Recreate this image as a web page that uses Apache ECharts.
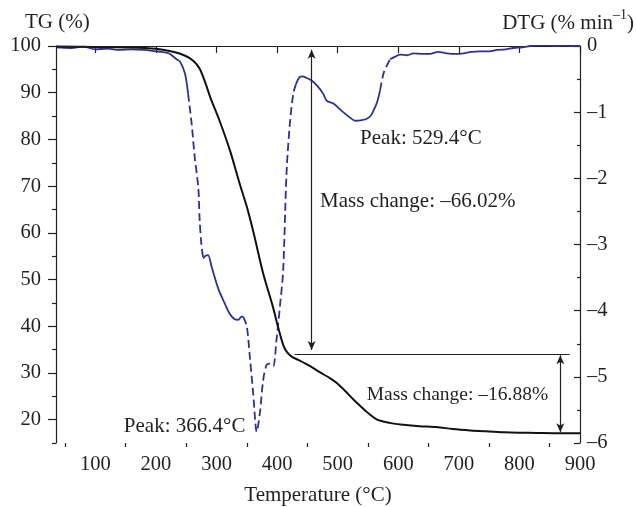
<!DOCTYPE html>
<html>
<head>
<meta charset="utf-8">
<script src="https://cdn.jsdelivr.net/npm/echarts@6/dist/echarts.min.js"></script>
<style>
  html, body { margin: 0; padding: 0; background: #fff; }
  #chart { width: 636px; height: 507px; }
</style>
</head>
<body>
<div id="chart"></div>
<script>
// TG curve (temperature in °C, mass in %)
const tgTemp = [35, 100, 150, 200, 230, 250, 262, 272, 281, 290, 305, 322, 338, 350, 356, 363, 377, 393, 402, 410, 416, 424, 435, 454, 471, 487, 498, 512, 526, 540, 553, 565, 575, 590, 608, 635, 663, 690, 719, 745, 774, 800, 829, 860, 900]
const tgValue = [99.9, 99.8, 99.7, 99.4, 98.7, 97.8, 96.8, 95.2, 92.3, 88.9, 84.0, 77.7, 70.6, 65.6, 62.7, 59.0, 51.3, 44.2, 39.6, 36.0, 34.5, 33.5, 32.8, 31.5, 30.1, 28.9, 27.9, 26.2, 24.3, 22.6, 21.1, 20.0, 19.6, 19.2, 18.9, 18.6, 18.4, 18.0, 17.7, 17.5, 17.3, 17.2, 17.15, 17.1, 17.1]

// DTG curve (% min^-1)
const dtgTemp = [35, 60, 80, 100, 120, 140, 160, 180, 200, 210, 217, 223, 234, 240, 248, 253, 259, 264, 270, 272, 275, 278, 282, 286, 292, 303, 313, 322, 330, 336, 341, 344, 350, 355, 360.5, 366.4, 371.5, 377, 382.6, 388, 393.5, 399, 404.6, 410, 415.5, 421, 426.7, 431, 437, 442, 448, 457, 466, 476, 482, 493, 509, 520, 529.4, 540, 548, 555, 559, 565, 570, 575.5, 581, 586.5, 595, 603, 615, 625, 640, 652, 666, 680, 695, 708, 720, 735, 750, 763, 777, 790, 805, 818, 832, 845, 860, 873, 885, 900]
const dtgValue = [-0.02, -0.03, -0.01, -0.05, -0.04, -0.06, -0.05, -0.06, -0.08, -0.09, -0.1, -0.12, -0.2, -0.24, -0.42, -0.72, -1.18, -1.68, -2.15, -2.6, -3.0, -3.21, -3.17, -3.16, -3.34, -3.67, -3.88, -4.05, -4.13, -4.14, -4.09, -4.09, -4.24, -4.7, -5.25, -5.83, -5.55, -5.05, -4.82, -4.8, -4.84, -4.44, -3.94, -3.39, -1.93, -1.18, -0.72, -0.58, -0.47, -0.46, -0.48, -0.52, -0.6, -0.72, -0.83, -0.87, -1.0, -1.08, -1.13, -1.12, -1.1, -1.05, -0.98, -0.85, -0.67, -0.42, -0.3, -0.2, -0.16, -0.13, -0.14, -0.11, -0.12, -0.12, -0.09, -0.11, -0.12, -0.11, -0.09, -0.08, -0.08, -0.06, -0.05, -0.03, -0.02, 0.0, 0.01, 0.015, 0.0, 0.01, 0.0, 0.0]

// tick labels
const xLabels = [100, 200, 300, 400, 500, 600, 700, 800, 900]
const xMinor = [50, 150, 250, 350, 450, 550, 650, 750, 850]
const tgLabels = [20, 30, 40, 50, 60, 70, 80, 90, 100]
const tgMinor = [15, 25, 35, 45, 55, 65, 75, 85, 95]

// annotations
const noteText = ['Peak: 529.4°C', 'Mass change: –66.02%', 'Mass change: –16.88%', 'Peak: 366.4°C']
const noteTemp = [537, 471, 548, 147]
const noteTg = [80.3, 66.8, 25.3, 18.5]
const refLines = [[[35, 100], [465, 100]], [[429, 33.9], [883, 33.9]]]
const arrowLines = [[[457, 99.2], [457, 34.9]], [[867.5, 33.8], [867.5, 17.3]]]

const FONT = '"Liberation Serif", "DejaVu Serif", serif'
const INK = '#231f20'
const BLUE = '#2e3192'

// parts of the DTG trace drawn dashed (as in the original print)
const dashedRanges = [[253, 278], [344, 431], [570, 586.5]]
const inDashed = t => dashedRanges.some(r => t >= r[0] && t <= r[1])
const isEdge = t => dashedRanges.some(r => t === r[0] || t === r[1])

const tgData = tgTemp.map((t, i) => [t, tgValue[i]])
const dtgSolid = dtgTemp.map((t, i) => [t, (!inDashed(t) || isEdge(t)) ? dtgValue[i] : '-'])
const dtgDashed = dtgTemp.map((t, i) => [t, inDashed(t) ? dtgValue[i] : '-'])

// the lower mass-change note is set a little smaller in the original
const noteSize = i => (i === 2 ? 19.5 : 21)

const myChart = echarts.init(document.getElementById('chart'))

const axisLine = { show: true, lineStyle: { color: INK, width: 1.2 } }
const labelStyle = { color: INK, fontFamily: FONT, fontSize: 20.5 }

const option = {
  backgroundColor: '#fff',
  animation: false,
  grid: { left: 56, right: 56, top: 46, bottom: 64 },
  xAxis: [
    {
      type: 'value', min: 35, max: 900,
      axisLine: axisLine,
      axisTick: { show: true, length: 7, customValues: xLabels, lineStyle: { color: INK, width: 1.2 } },
      axisLabel: { ...labelStyle, margin: 11, customValues: xLabels },
      splitLine: { show: false },
    },
    {
      type: 'value', min: 35, max: 900, position: 'bottom',
      axisLine: { show: false },
      axisTick: { show: true, length: 4, customValues: xMinor, lineStyle: { color: INK, width: 1.2 } },
      axisLabel: { show: false },
      splitLine: { show: false },
    },
  ],
  yAxis: [
    {
      type: 'value', min: 15, max: 100, position: 'left',
      axisLine: axisLine,
      axisTick: { show: true, length: 8, customValues: tgLabels, lineStyle: { color: INK, width: 1.2 } },
      axisLabel: { ...labelStyle, margin: 15, customValues: tgLabels },
      splitLine: { show: false },
    },
    {
      type: 'value', min: 15, max: 100, position: 'left',
      axisLine: { show: false },
      axisTick: { show: true, length: 4, customValues: tgMinor, lineStyle: { color: INK, width: 1.2 } },
      axisLabel: { show: false },
      splitLine: { show: false },
    },
    {
      type: 'value', min: -6, max: 0, interval: 1, position: 'right',
      axisLine: axisLine,
      axisTick: { show: true, inside: true, length: 6, lineStyle: { color: INK, width: 1.2 } },
      minorTick: { show: true, splitNumber: 2, length: 3, lineStyle: { color: INK, width: 1.2 } },
      axisLabel: {
        ...labelStyle, margin: 7,
        formatter: v => (v === 0 ? '0' : '–' + Math.abs(v)),
      },
      splitLine: { show: false },
      minorSplitLine: { show: false },
    },
  ],
  graphic: [
    { type: 'text', left: 25, top: 12, style: { text: 'TG (%)', font: '21px ' + FONT, fill: INK } },
    {
      type: 'text', right: 2, top: 8,
      style: {
        text: '{a|DTG (% min}{s|–1}{a|)}',
        fill: INK,
        rich: {
          a: { fontFamily: FONT, fontSize: 21, color: INK, lineHeight: 26, verticalAlign: 'bottom' },
          s: { fontFamily: FONT, fontSize: 14, color: INK, lineHeight: 26, verticalAlign: 'top', padding: [0, 0, 8, 0] },
        },
      },
    },
    { type: 'text', left: 'center', top: 485, style: { text: 'Temperature (°C)', font: '21px ' + FONT, fill: INK } },
  ],
  series: [
    {
      name: 'DTG', type: 'line', yAxisIndex: 2, data: dtgSolid,
      symbol: 'none', smooth: 0.3, connectNulls: false,
      lineStyle: { color: BLUE, width: 1.8 },
      z: 2,
    },
    {
      name: 'DTG dashed', type: 'line', yAxisIndex: 2, data: dtgDashed,
      symbol: 'none', smooth: 0.3, connectNulls: false,
      lineStyle: { color: BLUE, width: 1.8, type: [8, 4] },
      z: 2,
    },
    {
      name: 'TG', type: 'line', yAxisIndex: 0, data: tgData,
      symbol: 'none', smooth: 0.3,
      lineStyle: { color: '#111', width: 2 },
      z: 3,
      markLine: {
        silent: true, symbol: 'none', animation: false,
        label: { show: false },
        lineStyle: { color: INK, width: 1.2, type: 'solid' },
        data: refLines.map(l => [{ coord: l[0] }, { coord: l[1] }]),
      },
    },
    {
      name: 'notes', type: 'scatter', yAxisIndex: 0,
      data: noteTemp.map((t, i) => ({
        value: [t, noteTg[i], noteText[i]],
        label: { fontSize: noteSize(i) },
      })),
      symbolSize: 0,
      itemStyle: { opacity: 1, color: INK },
      label: {
        show: true, position: [0, 0], align: 'left', verticalAlign: 'middle',
        formatter: p => p.value[2],
        fontFamily: FONT, fontSize: 21, color: INK, opacity: 1,
      },
      markLine: {
        silent: true, symbol: ['arrow', 'arrow'], symbolSize: [6, 9], animation: false,
        label: { show: false },
        lineStyle: { color: INK, width: 1.2, type: 'solid', opacity: 1 },
        data: arrowLines.map(l => [{ coord: l[0] }, { coord: l[1] }]),
      },
      z: 4,
    },
  ],
}

myChart.setOption(option)
window.addEventListener('resize', () => myChart.resize())
</script>
</body>
</html>
